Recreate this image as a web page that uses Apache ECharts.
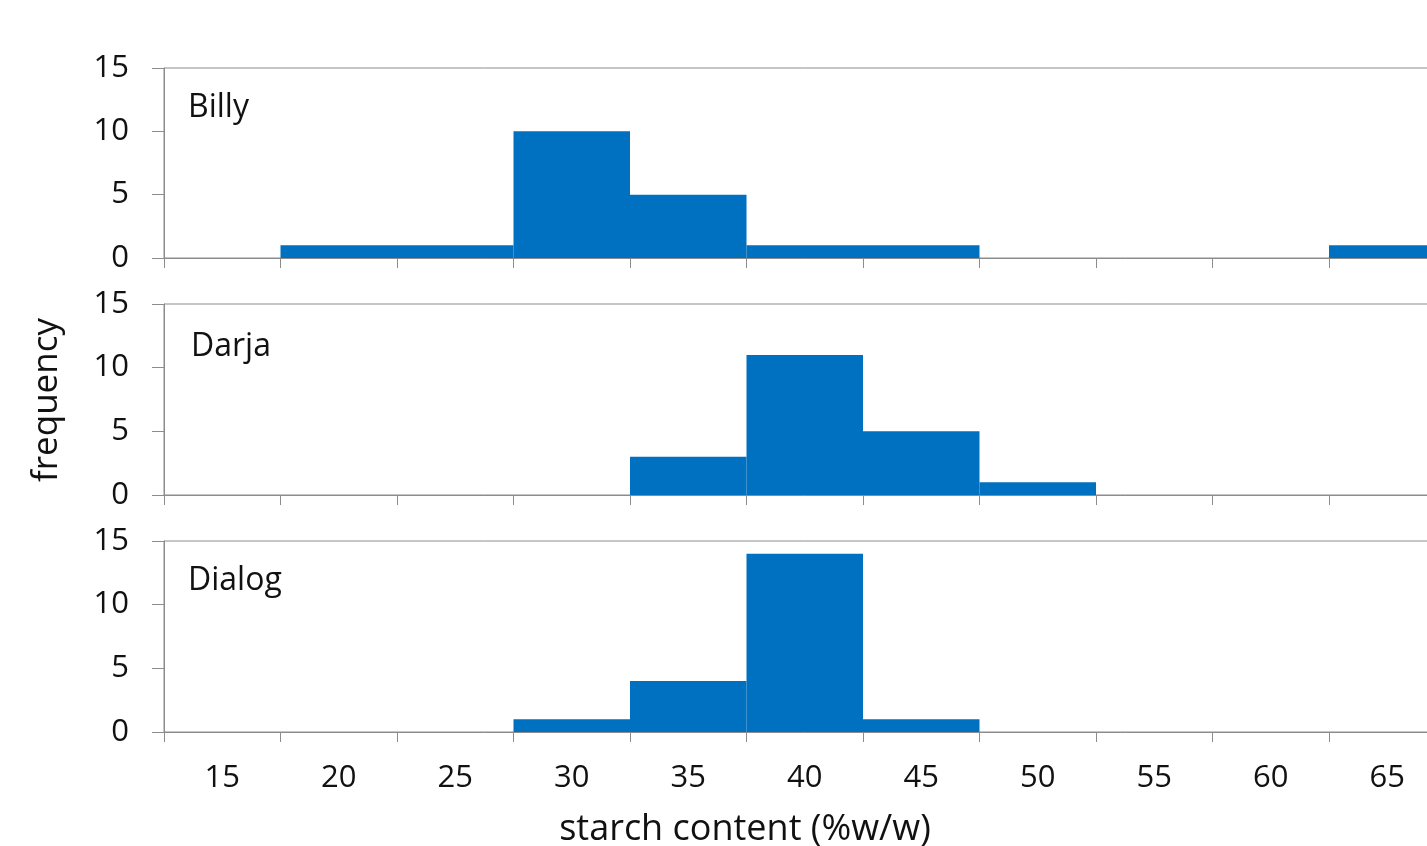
<!DOCTYPE html>
<html>
<head>
<meta charset="utf-8">
<script src="https://cdn.jsdelivr.net/npm/echarts@6/dist/echarts.min.js"></script>
<style>
html,body{margin:0;padding:0;background:#fff;overflow:hidden;width:1427px;height:846px;}
#chart{width:1460px;height:846px;}
</style>
</head>
<body>
<div id="chart"></div>
<script>
const categories = ['15','20','25','30','35','40','45','50','55','60','65'];
const billy  = [0, 1, 1, 10, 5, 1, 1, 0, 0, 0, 1];
const darja  = [0, 0, 0, 0, 3, 11, 5, 1, 0, 0, 0];
const dialog = [0, 0, 0, 1, 4, 14, 1, 0, 0, 0, 0];
const panelNames = ['Billy', 'Darja', 'Dialog'];
const yTicks = [0, 5, 10, 15];

const chart = echarts.init(document.getElementById('chart'), null, {renderer:'canvas'});
const font = '"Open Sans", sans-serif';
const lineColor = '#8c8c8c';
const textColor = '#111111';
const barColor = '#0070C0';

const tops = [68, 304, 541];
const heights = [190, 191, 191];
const seriesData = [billy, darja, dialog];

const grids = [], xAxes = [], yAxes = [], series = [], titles = [];
for (let i = 0; i < 3; i++) {
  grids.push({left: 164, top: tops[i], width: 1281.5, height: heights[i],
    show: true, borderColor: lineColor, borderWidth: 1, containLabel: false});
  xAxes.push({
    type: 'category', gridIndex: i, data: categories, boundaryGap: true,
    axisLine: {show: true, lineStyle: {color: lineColor, width: 1}},
    axisTick: {show: true, length: 10, lineStyle: {color: lineColor}},
    axisLabel: {show: i === 2, margin: 31, fontSize: 31, color: textColor, fontFamily: font},
    splitLine: {show: false}
  });
  yAxes.push({
    type: 'value', gridIndex: i, min: yTicks[0], max: yTicks[yTicks.length-1], interval: 5,
    axisLine: {show: true, lineStyle: {color: lineColor, width: 1}},
    axisTick: {show: true, length: 12, lineStyle: {color: lineColor}},
    axisLabel: {show: true, margin: 35, fontSize: 31, color: textColor, fontFamily: font},
    splitLine: {show: false}
  });
  series.push({
    type: 'bar', xAxisIndex: i, yAxisIndex: i,
    data: seriesData[i].map(v => v === 0 ? null : v),
    barCategoryGap: '0%', barGap: '0%',
    itemStyle: {color: barColor, borderColor: barColor, borderWidth: 2}, silent: true
  });
}
const tStyle = {fontSize: 32, fontWeight: 'normal', color: textColor, fontFamily: font};
titles.push({text: panelNames[0], left: 183, top: 87, textStyle: tStyle});
titles.push({text: panelNames[1], left: 186, top: 326, textStyle: tStyle});
titles.push({text: panelNames[2], left: 183, top: 560, textStyle: tStyle});

chart.setOption({
  animation: false,
  backgroundColor: '#fff',
  title: titles,
  grid: grids,
  xAxis: xAxes,
  yAxis: yAxes,
  series: series,
  graphic: [
    {type: 'text', x: 47, y: 400, rotation: Math.PI/2,
     style: {text: 'frequency', x: 0, y: 0, textAlign: 'center', textVerticalAlign: 'middle', font: '35px ' + font, fill: textColor}},
    {type: 'text', style: {text: 'starch content (%w/w)', x: 745, y: 830, textAlign: 'center', textVerticalAlign: 'middle', font: '36px ' + font, fill: textColor}}
  ]
});
</script>
</body>
</html>
